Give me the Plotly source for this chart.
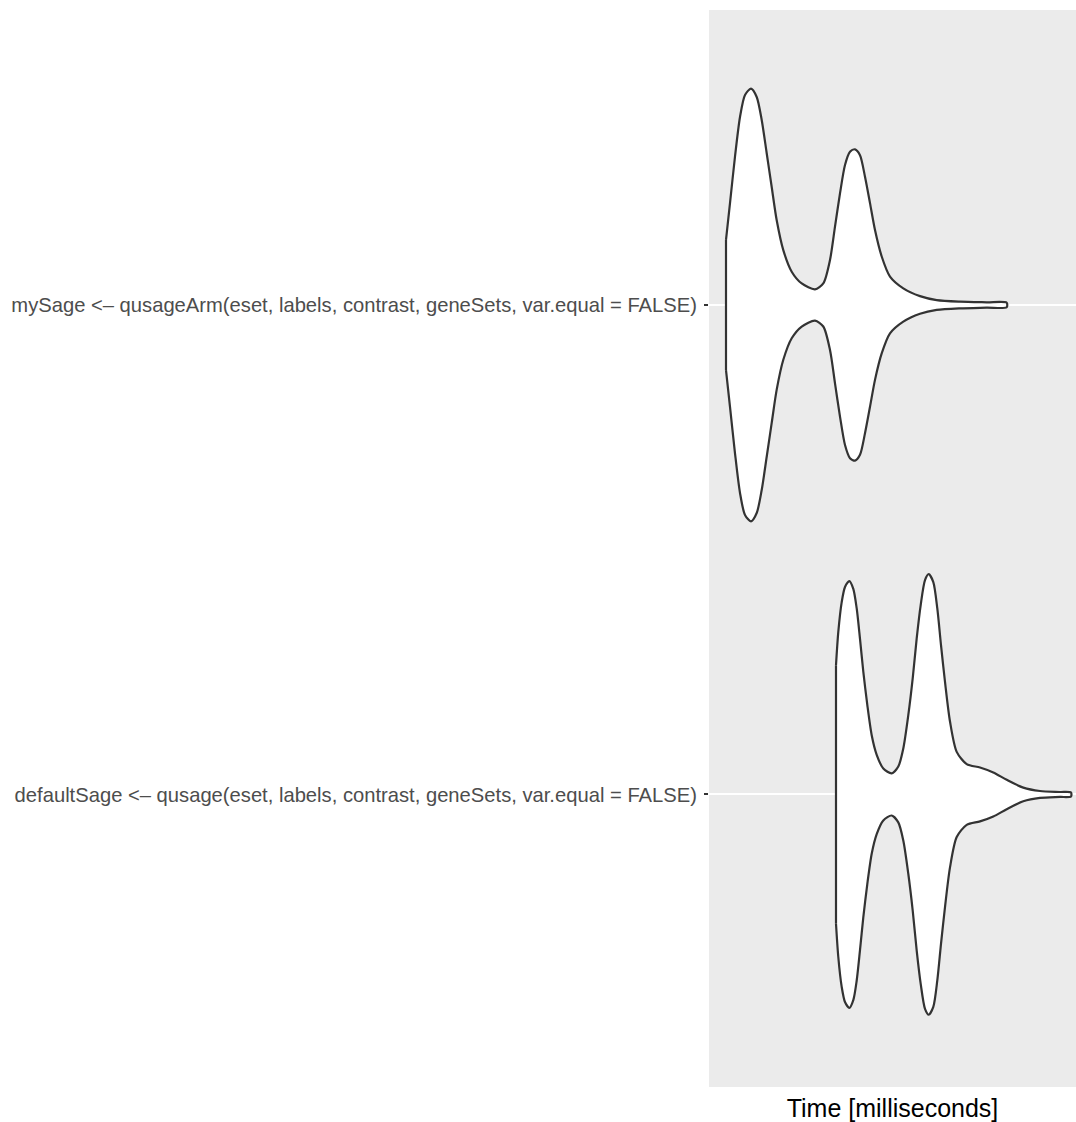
import plotly.graph_objects as go

# Estimated kernel-density profiles (time in ms, density as half-width in category units)
my_time = [2.6, 3.0, 3.5, 4.0, 4.5, 5.1, 5.67, 6.17, 6.67, 7.17, 7.67, 8.33, 9.17,
           10.17, 11.5, 12.33, 13.0, 13.5, 14.0, 14.5, 15.0, 15.5, 16.0, 16.5, 17.0,
           17.5, 18.17, 19.0, 20.33, 22.0, 23.67, 26.0, 28.67, 30.67]
my_dens = [0.133, 0.208, 0.303, 0.384, 0.429, 0.442, 0.425, 0.378, 0.310, 0.241, 0.173,
           0.112, 0.068, 0.044, 0.032, 0.044, 0.092, 0.160, 0.228, 0.286, 0.313, 0.318,
           0.306, 0.262, 0.208, 0.153, 0.099, 0.058, 0.034, 0.018, 0.010, 0.0068,
           0.0055, 0.0047]

def_time = [13.6, 13.83, 14.17, 14.5, 14.93, 15.33, 15.67, 16.0, 16.33, 16.73, 17.17,
            17.67, 18.33, 19.17, 19.83, 20.33, 20.83, 21.27, 21.67, 22.07, 22.5, 22.87,
            23.33, 23.73, 24.1, 24.5, 25.0, 25.67, 26.67, 28.0, 29.33, 30.67, 32.33,
            34.0, 36.0, 37.1]
def_dens = [0.264, 0.332, 0.393, 0.424, 0.436, 0.420, 0.380, 0.318, 0.251, 0.183, 0.121,
            0.081, 0.053, 0.043, 0.057, 0.094, 0.162, 0.237, 0.319, 0.387, 0.438, 0.450,
            0.434, 0.380, 0.305, 0.230, 0.149, 0.087, 0.062, 0.055, 0.045, 0.030, 0.014,
            0.0071, 0.0051, 0.0041]

categories = ["defaultSage <\u2013 qusage(eset, labels, contrast, geneSets, var.equal = FALSE)",
              "mySage <\u2013 qusageArm(eset, labels, contrast, geneSets, var.equal = FALSE)"]
cat_pos = [1, 2]

OUTLINE = "#333333"
fig = go.Figure()

for t, d, pos in [(my_time, my_dens, cat_pos[1]), (def_time, def_dens, cat_pos[0])]:
    # upper edge left->right, lower edge right->left; the fill closes with a straight
    # segment at the minimum time, which is drawn separately as a flat edge
    xs = list(t) + list(reversed(t))
    ys = [pos + v for v in d] + [pos - v for v in reversed(d)]
    fig.add_trace(go.Scatter(
        x=xs, y=ys, mode="lines", fill="toself", fillcolor="white",
        line=dict(color=OUTLINE, width=2.2, shape="spline", smoothing=0.75),
        hoverinfo="skip", showlegend=False,
    ))
    fig.add_trace(go.Scatter(
        x=[t[0], t[0]], y=[pos + d[0], pos - d[0]], mode="lines",
        line=dict(color=OUTLINE, width=2.2),
        hoverinfo="skip", showlegend=False,
    ))

fig.update_layout(
    width=1076, height=1122,
    margin=dict(l=709, r=0, t=10, b=35),
    paper_bgcolor="white", plot_bgcolor="#EBEBEB",
    font=dict(family="Liberation Sans, Arial, sans-serif"),
    xaxis=dict(
        range=[0.9, 37.6], showgrid=False, zeroline=False, showticklabels=False,
        ticks="", showline=False,
        title=dict(text="Time [milliseconds]", font=dict(size=25, color="black"), standoff=14),
    ),
    yaxis=dict(
        range=[0.4024, 2.6026], tickmode="array", tickvals=cat_pos, ticktext=categories,
        ticks="outside", ticklen=4, tickwidth=2, tickcolor=OUTLINE,
        tickfont=dict(size=20.2, color="#4D4D4D"), ticklabelstandoff=3,
        showgrid=True, gridcolor="white", gridwidth=2, zeroline=False, showline=False,
    ),
)

fig.write_html("out.html")
